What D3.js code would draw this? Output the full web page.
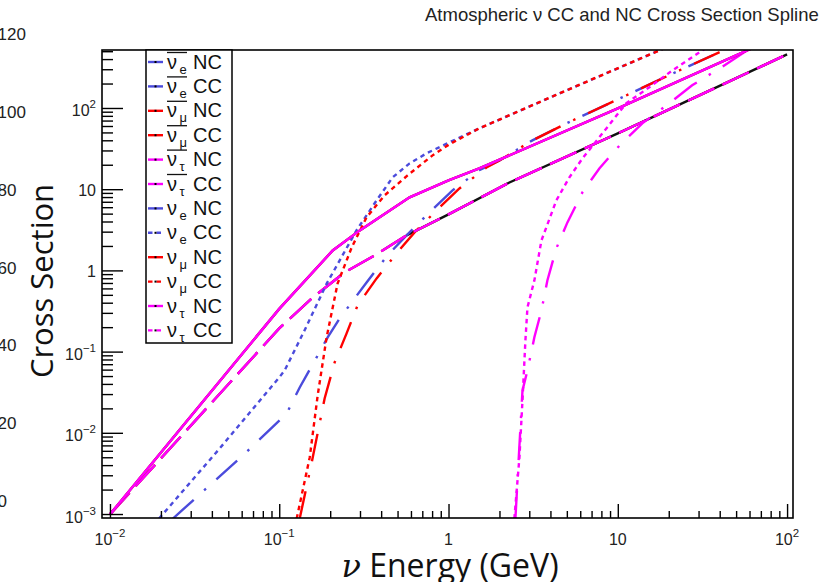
<!DOCTYPE html>
<html>
<head>
<meta charset="utf-8">
<script src="https://cdn.jsdelivr.net/npm/d3@7"></script>
<style>
  html, body { margin: 0; padding: 0; background: #fff; }
  svg { display: block; font-family: "Liberation Sans", Arial, sans-serif; }
</style>
</head>
<body>
<svg id="chart" width="823" height="582"></svg>
<script>
// [energy (GeV), cross section]
const nuNC       = [[0.01, 0.00099], [0.1, 0.336], [0.207, 1.76], [0.299, 3.11], [0.589, 7.93], [1, 12.8], [1.52, 18.0], [10, 98.9], [58.1, 512], [100, 830]];
const nubarNC    = [[0.01, 0.00099], [0.1, 0.193], [0.158, 0.465], [0.243, 0.944], [0.366, 1.53], [0.565, 2.70], [1, 4.90], [2.29, 12.1], [10, 48.6], [100, 457]];
const nueCC      = [[0.0195, 0.00088], [0.0446, 0.00646], [0.1, 0.0481], [0.1076, 0.0586], [0.141, 0.182], [0.191, 0.692], [0.286, 3.11], [0.376, 7.28], [0.468, 14.0], [0.589, 20.8], [0.741, 27.6], [1.01, 37.7], [1.52, 56.1], [4.52, 151], [17.6, 512], [100, 2400]];
const numuCC     = [[0.1268, 0.00088], [0.1514, 0.00498], [0.1687, 0.0289], [0.1905, 0.150], [0.2213, 0.692], [0.268, 1.92], [0.328, 4.50], [0.419, 8.39], [0.573, 14.8], [0.805, 26.1], [1.01, 35.6], [1.52, 56.1], [4.52, 151], [17.6, 512], [100, 2400]];
const nuebarCC   = [[0.02355, 0.00088], [0.061, 0.00527], [0.1107, 0.01734], [0.1321, 0.0362], [0.1663, 0.0849], [0.1932, 0.150], [0.2275, 0.256], [0.328, 0.711], [0.4365, 1.53], [0.565, 2.70], [0.794, 5.48], [1.056, 9.66], [1.52, 17.1], [2.0, 22.6], [3.13, 39.9], [4.97, 64.6], [10.6, 135], [23.1, 290], [39.7, 484], [100, 1170]];
const numubarCC  = [[0.1321, 0.00088], [0.1556, 0.00432], [0.1854, 0.0265], [0.2125, 0.0736], [0.250, 0.1675], [0.2904, 0.371], [0.376, 0.797], [0.493, 1.62], [0.630, 2.94], [0.885, 5.97], [1.16, 10.2], [1.675, 18.5], [2.0, 22.6], [3.13, 39.9], [4.97, 64.6], [10.6, 135], [23.1, 290], [39.7, 484], [100, 1170]];
const nutauCC    = [[2.449, 0.00088], [2.624, 0.00498], [2.735, 0.0251], [2.846, 0.137], [2.926, 0.350], [3.215, 0.753], [3.54, 2.34], [4.335, 7.28], [5.18, 14.0], [6.18, 23.9], [8.11, 48.6], [11.2, 114], [15.3, 179], [21.0, 290], [31.6, 512], [100, 2110]];
const nutaubarCC = [[2.484, 0.00088], [2.735, 0.0333], [2.926, 0.0586], [3.215, 0.150], [3.54, 0.321], [3.837, 0.753], [4.335, 1.87], [5.04, 3.90], [6.18, 9.14], [7.78, 18.0], [10.5, 36.6], [13.96, 64.6], [20.1, 114], [27.5, 190], [40.8, 316], [58.1, 512], [100, 903]];

const X_MAJOR = [0.01, 0.1, 1, 10, 100];
const Y_MAJOR = [0.001, 0.01, 0.1, 1, 10, 100];
const STRAY_TICKS = [0, 20, 40, 60, 80, 100, 120];   // labels of a neighbouring axis, cut off at the left

const BLUE = "#4b4bdc", RED = "#ff0000", MAGENTA = "#ff00ff";
const SOLID = null, LONG = "29,9", DASHDOT = "28,14,2.5,14", DOTTED = "4.5,4";

const SERIES = [
  { sub: "e", bar: true,  type: "NC", color: BLUE,    dash: LONG,    data: nubarNC },
  { sub: "e", bar: true,  type: "CC", color: BLUE,    dash: DASHDOT, data: nuebarCC },
  { sub: "μ", bar: true,  type: "NC", color: RED,     dash: LONG,    data: nubarNC },
  { sub: "μ", bar: true,  type: "CC", color: RED,     dash: DASHDOT, data: numubarCC },
  { sub: "τ", bar: true,  type: "NC", color: MAGENTA, dash: LONG,    data: nubarNC },
  { sub: "τ", bar: true,  type: "CC", color: MAGENTA, dash: DASHDOT, data: nutaubarCC },
  { sub: "e", bar: false, type: "NC", color: BLUE,    dash: SOLID,   data: nuNC },
  { sub: "e", bar: false, type: "CC", color: BLUE,    dash: DOTTED,  data: nueCC },
  { sub: "μ", bar: false, type: "NC", color: RED,     dash: SOLID,   data: nuNC },
  { sub: "μ", bar: false, type: "CC", color: RED,     dash: DOTTED,  data: numuCC },
  { sub: "τ", bar: false, type: "NC", color: MAGENTA, dash: SOLID,   data: nuNC },
  { sub: "τ", bar: false, type: "CC", color: MAGENTA, dash: DOTTED,  data: nutauCC }
];

const frame = { left: 102, right: 793, top: 50, bottom: 518 };

const x = d3.scaleLog().domain([Math.pow(10, -2.047), Math.pow(10, 2.035)]).range([frame.left, frame.right]);
const y = d3.scaleLog().domain([Math.pow(10, -3.049), Math.pow(10, 2.714)]).range([frame.bottom, frame.top]);

function minorTicks(scale) {
  const [a, b] = scale.domain();
  const out = [];
  for (let k = -4; k <= 3; k++) {
    for (let m = 2; m <= 9; m++) {
      const v = m * Math.pow(10, k);
      if (v > a * 1.02 && v < b / 1.02) out.push(v);
    }
  }
  return out;
}

const svg = d3.select("#chart");

svg.append("defs").append("clipPath").attr("id", "plot-clip")
  .append("rect")
    .attr("x", frame.left).attr("y", frame.top)
    .attr("width", frame.right - frame.left).attr("height", frame.bottom - frame.top);

// ── curves ──
const line = d3.line().x(d => x(d[0])).y(d => y(d[1]));
const plot = svg.append("g").attr("clip-path", "url(#plot-clip)");

// dark spline underneath the antineutrino NC curve (shows in the dash gaps)
plot.append("path")
  .datum(nubarNC.filter(d => d[0] >= 0.5))
  .attr("fill", "none")
  .attr("stroke", "#111")
  .attr("stroke-width", 2.4)
  .attr("d", line);

SERIES.forEach(s => {
  plot.append("path")
    .datum(s.data)
    .attr("fill", "none")
    .attr("stroke", s.color)
    .attr("stroke-width", 2.4)
    .attr("stroke-dasharray", s.dash)
    .attr("d", line);
});

// ── axes ──
function styleAxis(g) {
  g.select(".domain").remove();
  g.selectAll(".tick line").attr("stroke", "#000").attr("stroke-width", 1.4);
}

svg.append("g")
  .attr("transform", `translate(0,${frame.bottom})`)
  .call(d3.axisBottom(x).tickValues(X_MAJOR).tickSize(-14).tickFormat(""))
  .call(styleAxis);
svg.append("g")
  .attr("transform", `translate(0,${frame.bottom})`)
  .call(d3.axisBottom(x).tickValues(minorTicks(x)).tickSize(-7).tickFormat(""))
  .call(styleAxis);
svg.append("g")
  .attr("transform", `translate(${frame.left},0)`)
  .call(d3.axisLeft(y).tickValues(Y_MAJOR).tickSize(-21).tickFormat(""))
  .call(styleAxis);
svg.append("g")
  .attr("transform", `translate(${frame.left},0)`)
  .call(d3.axisLeft(y).tickValues(minorTicks(y)).tickSize(-11).tickFormat(""))
  .call(styleAxis);

svg.append("rect")
  .attr("x", frame.left).attr("y", frame.top)
  .attr("width", frame.right - frame.left).attr("height", frame.bottom - frame.top)
  .attr("fill", "none").attr("stroke", "#000").attr("stroke-width", 1.6);

function powLabel(sel, v) {
  const e = Math.round(Math.log10(v));
  if (e === 0) { sel.text("1"); return; }
  if (e === 1) { sel.text("10"); return; }
  sel.append("tspan").text("10");
  sel.append("tspan").attr("dy", -8).attr("font-size", 11.5)
    .text(e < 0 ? "\u2212" + (-e) : String(e));
}

svg.append("g").selectAll("text")
  .data(X_MAJOR)
  .join("text")
    .attr("x", d => x(d))
    .attr("y", 545)
    .attr("text-anchor", "middle")
    .attr("font-size", 16)
    .attr("fill", "#222")
    .each(function(d) { powLabel(d3.select(this), d); });

svg.append("g").selectAll("text")
  .data(Y_MAJOR)
  .join("text")
    .attr("x", 96)
    .attr("y", d => y(d) + (d === 1 || d === 10 ? 7 : 8.5))
    .attr("text-anchor", "end")
    .attr("font-size", 16)
    .attr("fill", "#222")
    .each(function(d) { powLabel(d3.select(this), d); });

// neighbouring axis labels, clipped by the page edge
const stray = d3.scaleLinear().domain([0, 120]).range([507, 40]);
svg.append("g").selectAll("text")
  .data(STRAY_TICKS)
  .join("text")
    .attr("x", -2.5)
    .attr("y", d => stray(d))
    .attr("font-size", 17)
    .attr("fill", "#222")
    .text(d => d);

// ── titles ──
svg.append("text")
  .attr("x", 425).attr("y", 21)
  .attr("font-size", 18.5)
  .attr("fill", "#222")
  .text("Atmospheric \u03bd CC and NC Cross Section Spline");

svg.append("text")
  .attr("transform", "translate(53,281) rotate(-90)")
  .attr("text-anchor", "middle")
  .attr("font-family", "'Open Sans', sans-serif")
  .attr("font-size", 31)
  .attr("fill", "#111")
  .text("Cross Section");

const xt = svg.append("text")
  .attr("x", 450).attr("y", 577)
  .attr("text-anchor", "middle")
  .attr("font-family", "'Open Sans', sans-serif")
  .attr("font-size", 32)
  .attr("fill", "#111");
xt.append("tspan").attr("font-family", "'DejaVu Serif', serif").attr("font-style", "italic").text("\u03bd");
xt.append("tspan").text(" Energy (GeV)");

// ── legend ──
const LEG = { left: 146, right: 232, top: 50, bottom: 343, row0: 62, step: 24.4 };
const legend = svg.append("g");
legend.append("rect")
  .attr("x", LEG.left).attr("y", LEG.top)
  .attr("width", LEG.right - LEG.left).attr("height", LEG.bottom - LEG.top)
  .attr("fill", "#fff").attr("stroke", "#000").attr("stroke-width", 1.5);

SERIES.forEach((s, i) => {
  const yc = LEG.row0 + i * LEG.step;
  const g = legend.append("g");
  g.append("line")
    .attr("x1", 148).attr("x2", 163).attr("y1", yc).attr("y2", yc)
    .attr("stroke", s.color).attr("stroke-width", 2.4)
    .attr("stroke-dasharray", s.dash);
  g.append("rect")
    .attr("x", 154.5).attr("y", yc - 1).attr("width", 2).attr("height", 2)
    .attr("fill", "#000");
  g.append("text")
    .attr("x", 167).attr("y", yc + 6.5)
    .attr("font-size", 20).attr("fill", "#111")
    .text("\u03bd");
  g.append("text")
    .attr("x", 179.5).attr("y", yc + 11.5)
    .attr("font-size", 13).attr("fill", "#111")
    .text(s.sub);
  if (s.bar) {
    g.append("line")
      .attr("x1", 167).attr("x2", 187).attr("y1", yc - 9.5).attr("y2", yc - 9.5)
      .attr("stroke", "#111").attr("stroke-width", 1.3);
  }
  g.append("text")
    .attr("x", 193).attr("y", yc + 6.5)
    .attr("font-size", 20).attr("fill", "#111")
    .text(s.type);
});
</script>
</body>
</html>
